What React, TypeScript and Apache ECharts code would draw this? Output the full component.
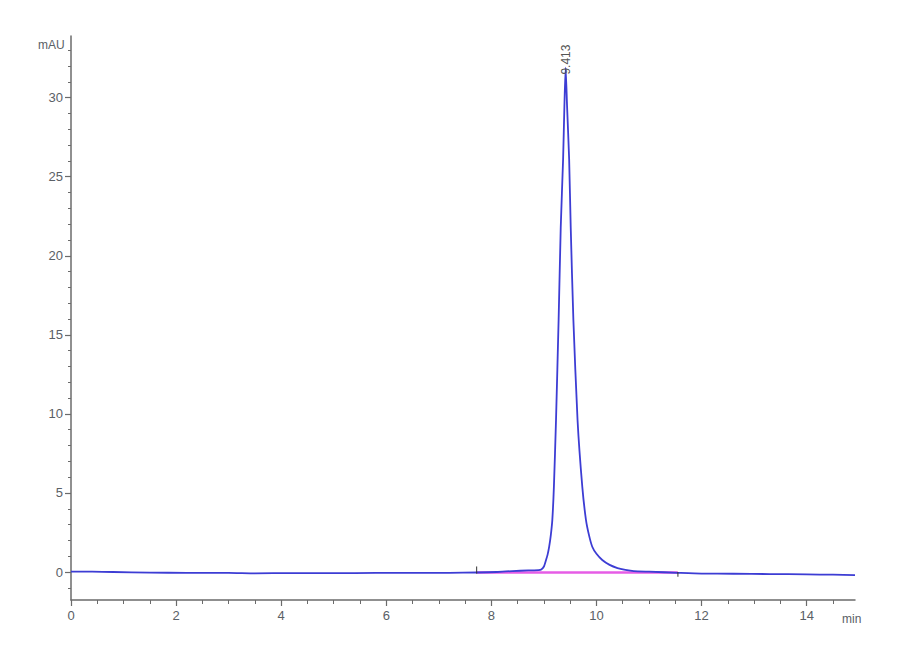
import { useEffect, useRef } from 'react'
import * as echarts from 'echarts'

// chromatogram trace (time in min, absorbance in mAU)
const timeMin = [
  0, 0.4, 0.8, 1.5, 2.2, 3.0, 3.5, 4.2, 5.0, 5.8, 6.5, 7.2, 7.72, 8.1, 8.4, 8.7, 8.9, 8.95, 9.0,
  9.04, 9.07, 9.1, 9.13, 9.16, 9.19, 9.23, 9.28, 9.32, 9.365, 9.39, 9.413, 9.44, 9.48, 9.51, 9.56,
  9.64, 9.73, 9.8, 9.86, 9.92, 10.0, 10.11, 10.25, 10.4, 10.55, 10.71, 11.0, 11.55, 12.0, 12.6, 13.3, 14.0, 14.5, 14.92,
]
const signalMAU = [
  0.02, 0.02, 0.0, -0.04, -0.05, -0.05, -0.08, -0.07, -0.07, -0.06, -0.05, -0.05, -0.03, 0.0, 0.06, 0.1, 0.12, 0.16, 0.35,
  0.76, 1.1, 1.6, 2.3, 3.3, 5.4, 9.6, 16.0, 21.8, 26.1, 29.5, 31.9, 29.5, 26.1, 21.8, 16.0,
  9.6, 5.4, 3.3, 2.3, 1.6, 1.15, 0.76, 0.45, 0.25, 0.14, 0.06, 0.02, -0.05, -0.1, -0.11, -0.13, -0.15, -0.17, -0.2,
]

// integration baseline
const baselineTime = [7.72, 11.55]
const baselineMAU = [-0.03, -0.03]
const startMarkMAU = [0.35, -0.1]
const endMarkMAU = [0.0, -0.3]

const peakTime = 9.413
const peakMAU = 31.9

const yMajor = [0, 5, 10, 15, 20, 25, 30]
const yMinor = [-1, 0, 1, 2, 3, 4, 5, 6, 7, 8, 9, 10, 11, 12, 13, 14, 15, 16, 17, 18, 19, 20, 21, 22, 23, 24, 25, 26, 27, 28, 29, 30, 31, 32, 33]
const xMajor = [0, 2, 4, 6, 8, 10, 12, 14]
const xMinor = [0.5, 1, 1.5, 2, 2.5, 3, 3.5, 4, 4.5, 5, 5.5, 6, 6.5, 7, 7.5, 8, 8.5, 9, 9.5, 10, 10.5, 11, 11.5, 12, 12.5, 13, 13.5, 14, 14.5]

const X_MIN = 0
const X_MAX = 14.92
const Y_MIN = -1.77
const Y_MAX = 33.9

const FONT = "'Liberation Sans Narrow', 'Liberation Sans', Arial, sans-serif"
const AXIS_COLOR = '#6b6b6b'
const LABEL_COLOR = '#5a6066'

export default function App() {
  const chartRef = useRef<HTMLDivElement>(null)

  useEffect(() => {
    if (!chartRef.current) return
    const chart = echarts.init(chartRef.current, undefined, { renderer: 'svg' })

    const trace = timeMin.map((t, i) => [t, signalMAU[i]])
    const baseline = baselineTime.map((t, i) => [t, baselineMAU[i]])

    const hiddenLabel = { show: false }

    chart.setOption({
      animation: false,
      backgroundColor: '#ffffff',
      grid: { left: 71, right: 45, top: 36, bottom: 60 },
      xAxis: [
        {
          type: 'value',
          min: X_MIN,
          max: X_MAX,
          axisLine: { onZero: false, lineStyle: { color: AXIS_COLOR, width: 1.5 } },
          axisTick: { customValues: xMajor, length: 6, lineStyle: { color: AXIS_COLOR, width: 1.2 } },
          axisLabel: {
            customValues: xMajor,
            color: LABEL_COLOR,
            fontSize: 13,
            fontFamily: FONT,
            margin: 9,
          },
          splitLine: { show: false },
        },
        {
          type: 'value',
          min: X_MIN,
          max: X_MAX,
          position: 'bottom',
          axisLine: { show: false, onZero: false },
          axisTick: { customValues: xMinor, length: 4, lineStyle: { color: AXIS_COLOR, width: 1 } },
          axisLabel: hiddenLabel,
          splitLine: { show: false },
        },
      ],
      yAxis: [
        {
          type: 'value',
          min: Y_MIN,
          max: Y_MAX,
          axisLine: { show: true, onZero: false, lineStyle: { color: AXIS_COLOR, width: 1.5 } },
          axisTick: { show: true, customValues: yMajor, length: 6, lineStyle: { color: AXIS_COLOR, width: 1.2 } },
          axisLabel: {
            customValues: yMajor,
            color: LABEL_COLOR,
            fontSize: 13,
            fontFamily: FONT,
            margin: 8,
          },
          splitLine: { show: false },
        },
        {
          type: 'value',
          min: Y_MIN,
          max: Y_MAX,
          position: 'left',
          axisLine: { show: false, onZero: false },
          axisTick: { show: true, customValues: yMinor, length: 3, lineStyle: { color: AXIS_COLOR, width: 1 } },
          axisLabel: hiddenLabel,
          splitLine: { show: false },
        },
      ],
      graphic: [
        {
          type: 'text',
          left: 38,
          top: 39,
          style: { text: 'mAU', fill: LABEL_COLOR, fontSize: 12, fontFamily: FONT },
        },
        {
          type: 'text',
          left: 842,
          top: 613,
          style: { text: 'min', fill: LABEL_COLOR, fontSize: 12, fontFamily: FONT },
        },
      ],
      series: [
        {
          name: 'baseline',
          type: 'line',
          data: baseline,
          symbol: 'none',
          lineStyle: { color: '#e65ce6', width: 2.5 },
          z: 2,
        },
        {
          name: 'start',
          type: 'line',
          data: startMarkMAU.map((v) => [baselineTime[0], v]),
          symbol: 'none',
          lineStyle: { color: '#333333', width: 1 },
          z: 4,
        },
        {
          name: 'end',
          type: 'line',
          data: endMarkMAU.map((v) => [baselineTime[1], v]),
          symbol: 'none',
          lineStyle: { color: '#333333', width: 1 },
          z: 4,
        },
        {
          name: 'signal',
          type: 'line',
          data: trace,
          symbol: 'none',
          smooth: 0.2,
          lineStyle: { color: '#3d3dd4', width: 1.8, join: 'round' },
          z: 3,
          markPoint: {
            symbol: 'circle',
            symbolSize: 0,
            data: [{ coord: [peakTime, peakMAU], value: peakTime }],
            label: {
              show: true,
              formatter: peakTime.toFixed(3),
              position: [0, 0],
              rotate: 90,
              align: 'left',
              verticalAlign: 'middle',
              offset: [-7, 0],
              color: '#555555',
              fontSize: 12,
              fontFamily: FONT,
            },
          },
        },
      ],
    })

    return () => {
      chart.dispose()
    }
  }, [])

  return (
    <div
      ref={chartRef}
      style={{ position: 'absolute', left: 0, top: 0, width: '900px', height: '660px' }}
    />
  )
}
